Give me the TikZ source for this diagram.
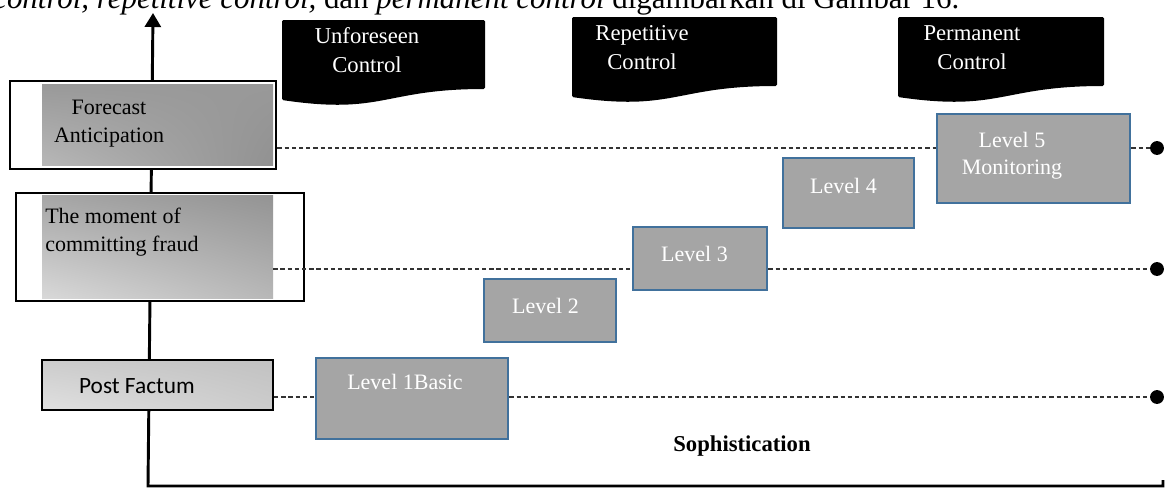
\documentclass[tikz,border=0pt]{standalone}
\usepackage{fontspec}
\setmainfont{Liberation Serif}
\newfontfamily\calibri{Carlito}
\usetikzlibrary{arrows.meta, positioning, calc, shadings}
\definecolor{lvlgray}{HTML}{A5A5A5}
\definecolor{lvlblue}{HTML}{41719C}
\definecolor{dashgray}{HTML}{333333}

\begin{document}
\begin{tikzpicture}[x=0.75pt, y=-0.75pt,
  axisline/.style={line width=2.2pt},
  sidebox/.style={draw=black, line width=2.1pt, fill=white, inner sep=0pt},
  lvlbox/.style={draw=lvlblue, line width=2pt, fill=lvlgray, inner sep=0pt},
  lvltext/.style={text=white, font=\fontsize{16.5}{20}\selectfont, inner sep=0pt},
  hdrtext/.style={text=white, font=\fontsize{17}{21.75}\selectfont, align=center, inner sep=0pt},
  sidetext/.style={font=\fontsize{16.5}{20.5}\selectfont, inner sep=0pt},
  dashline/.style={dashgray, line width=0.95pt, dash pattern=on 3.2pt off 2.2pt}]
  \useasboundingbox (0,0) rectangle (1166,490);
  \clip (0,0) rectangle (1166,490);

  % running text, cut off at the top
  \node[anchor=base west, inner sep=0pt, font=\fontsize{23.2}{27}\selectfont] (para) at (-7,8)
    {\textit{control, repetitive control,} dan \textit{permanent control} digambarkan di Gambar 16.};

  % axes
  \coordinate (origin) at (148,486);
  \coordinate (ytop) at (153,13);
  \coordinate (xend) at (1163,486);
  \draw[axisline, {Triangle[width=12pt,length=10.5pt]}-] (ytop) -- (origin) -- (xend) -- ++(0,-6);
  \node[font=\bfseries\fontsize{17}{20}\selectfont, anchor=base, inner sep=0pt] (soph) at (742,451) {Sophistication};

  % black headers with wavy bottom
  \foreach \xa/\xb/\ya/\nm/\tx/\tc in {282/485/20/uc/{Unforeseen\\Control}/367,
      572/777/17/rc/{Repetitive\\Control}/642, 898/1104/17/pc/{Permanent\\Control}/972} {
    \fill[black, rounded corners=1pt] (\xa,\ya) -- (\xb,\ya) -- (\xb,\ya+69)
      .. controls ({(\xa+\xb)/2},\ya+69) and ({(\xa+\xb)/2},\ya+95) .. (\xa,\ya+80) -- cycle;
    \node[hdrtext] (\nm) at (\tc,\ya+30.5) {\tx};
  }

  % left column
  \node[sidebox, minimum width=199.5pt, minimum height=66pt] (fc) at (143,125) {};
  \node[inner sep=0pt, minimum width=173.25pt, minimum height=60.75pt,
    upper left=black!40, upper right=black!40, lower right=black!43, lower left=black!28] (fcin) at (157.5,124.5) {};
  \node[sidetext, align=center] (fct) at (109,123.5) {Forecast\\Anticipation};

  \node[sidebox, minimum width=216pt, minimum height=81pt] (mf) at (160,247) {};
  \node[inner sep=0pt, minimum width=173.25pt, minimum height=77pt,
    upper left=black!35, upper right=black!42, lower right=black!28, lower left=black!15] (mfin) at (157.5,247) {};
  \node[sidetext, align=left, anchor=west] (mft) at (45,232) {The moment of\\committing fraud};

  \node[draw=black, line width=1.6pt, inner sep=0pt, minimum width=173.25pt, minimum height=37.5pt,
    upper left=black!20, upper right=black!24, lower right=black!20, lower left=black!12] (pf) at (157.5,385) {};
  \node[font=\calibri\fontsize{17.5}{20}\selectfont, anchor=base, inner sep=0pt] (pft) at (137,393) {Post Factum};

  % levels
  \foreach \nm/\cx/\cy/\w/\h in {l1/412/398.5/192/81, l2/550/310.5/132/63, l3/700/258.5/134/63,
      l4/848.5/193/131/70, l5/1033.5/158.5/193/89} {
    \node[lvlbox, minimum width=\w*0.75pt, minimum height=\h*0.75pt] (\nm) at (\cx,\cy) {};
  }
  \node[lvltext, anchor=base] (l1t) at (405,389) {Level 1Basic};
  \node[lvltext, anchor=base] (l2t) at (545.5,313) {Level 2};
  \node[lvltext, anchor=base] (l3t) at (694.5,261) {Level 3};
  \node[lvltext, anchor=base] (l4t) at (843.5,193) {Level 4};
  \node[lvltext, align=center] (l5t) at (1012,155.5) {Level 5\\Monitoring};

  % dashed guides and end dots
  \coordinate (d1) at (1157,148);
  \coordinate (d2) at (1157,269);
  \coordinate (d3) at (1157,397);
  \draw[dashline] (fc.east |- d1) -- (l5.west |- d1);
  \draw[dashline] (l5.east |- d1) -- (d1);
  \draw[dashline] (mfin.east |- d2) -- (l3.west |- d2);
  \draw[dashline] (l3.east |- d2) -- (d2);
  \draw[dashline] (pf.east |- d3) -- (l1.west |- d3);
  \draw[dashline] (l1.east |- d3) -- (d3);
  \foreach \d in {d1,d2,d3} {
    \fill (\d) circle (5.2pt);
  }
\end{tikzpicture}
\end{document}
